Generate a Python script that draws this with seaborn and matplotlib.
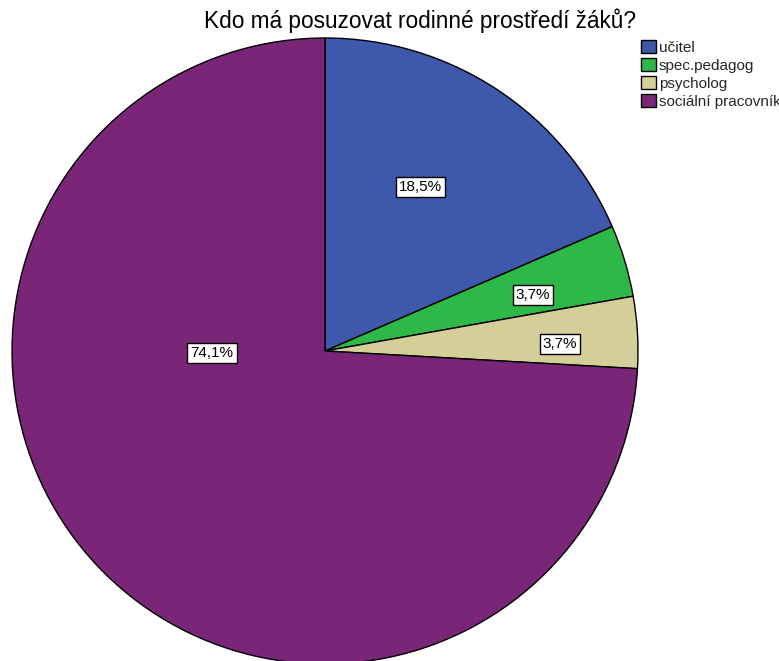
import matplotlib
matplotlib.use("Agg")
import matplotlib.pyplot as plt
import seaborn as sns

sns.set_theme(style="white")
plt.rcParams["font.family"] = ["Liberation Sans", "DejaVu Sans"]

title = "Kdo má posuzovat rodinné prostředí žáků?"
categories = ["učitel", "spec.pedagog", "psycholog", "sociální pracovník"]
percents = [18.5, 3.7, 3.7, 74.1]
colors = ["#3E58AC", "#2EB848", "#D4CF99", "#7A2678"]
# label box centres in units of the pie radius
label_xy = [(0.304, 0.524), (0.665, 0.179), (0.751, 0.022), (-0.361, -0.006)]

fig = plt.figure(figsize=(7.79, 6.61), dpi=100)
ax = fig.add_axes([0.0154, -0.0045, 0.8036, 0.947])

wedges, _ = ax.pie(
    percents, colors=colors, startangle=90, counterclock=False,
    radius=1.0, wedgeprops=dict(edgecolor="black", linewidth=1.0),
)
ax.set_xlim(-1, 1)
ax.set_ylim(-1, 1)
ax.set_aspect("equal")
ax.axis("off")

for p, (x, y) in zip(percents, label_xy):
    ax.text(x, y, f"{p:.1f}%".replace(".", ","), ha="center", va="center",
            fontsize=11, color="black",
            bbox=dict(boxstyle="square,pad=0.2", facecolor="white",
                      edgecolor="black", linewidth=1.0))

fig.text(0.539, 0.968, title, ha="center", va="center", fontsize=16.3, color="black")

fig.legend(wedges, categories, loc="upper left", bbox_to_anchor=(0.823, 0.94),
           frameon=False, fontsize=11, handlelength=0.95, handleheight=0.95,
           handletextpad=0.2, labelspacing=0.22, borderaxespad=0, borderpad=0)

fig.savefig("out.png", dpi=100)
